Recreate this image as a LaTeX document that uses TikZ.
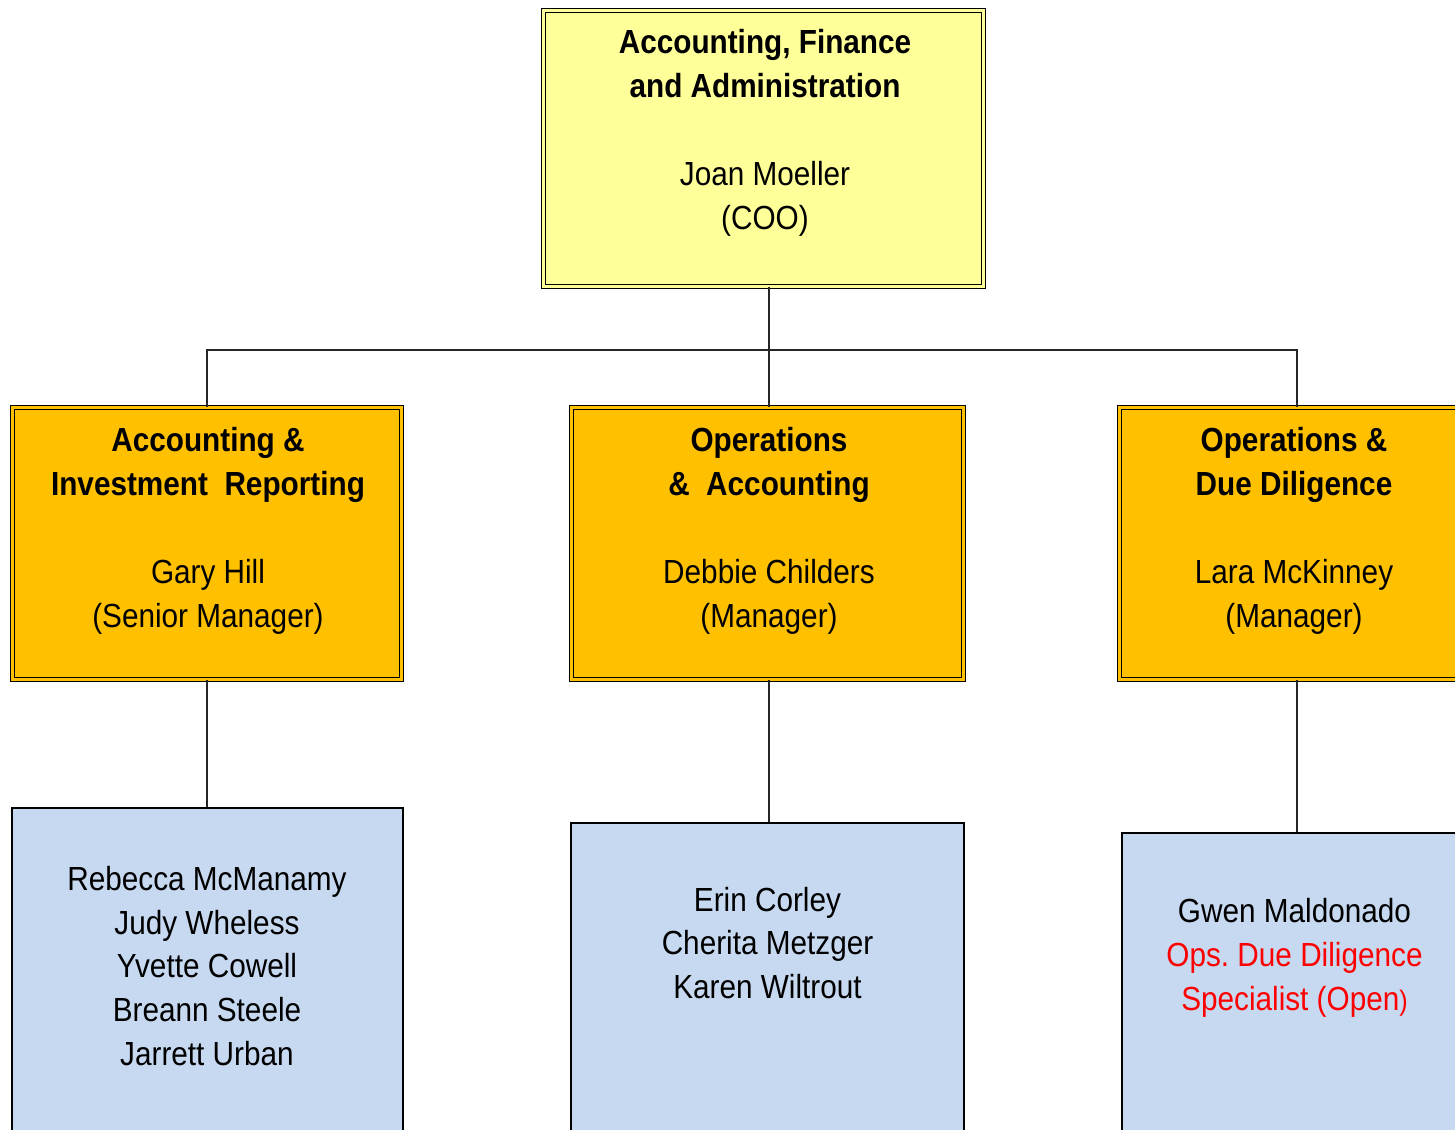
\documentclass[tikz,border=0pt]{standalone}
\usepackage{fontspec}
\setmainfont{Liberation Sans}[FakeStretch=0.89]
\usetikzlibrary{positioning}
\frenchspacing

\definecolor{cooyellow}{HTML}{FFFF99}
\definecolor{mgrorange}{HTML}{FFC000}
\definecolor{staffblue}{HTML}{C6D9F0}
\definecolor{openred}{HTML}{FF0000}

\newcommand{\orgfont}{\fontsize{9.5pt}{12.5pt}\selectfont}

\tikzset{
  unit/.style={rectangle, draw=black, line width=0.45pt, double distance=0.7pt},
  coobox/.style={unit, fill=cooyellow, double=cooyellow, minimum width=4.40cm, minimum height=2.76cm},
  mgrbox/.style={unit, fill=mgrorange, double=mgrorange, minimum height=2.72cm},
  staffbox/.style={rectangle, draw=black, line width=0.6pt, fill=staffblue, minimum height=3.6cm},
  label/.style={align=center, inner sep=0pt, font=\orgfont},
  link/.style={draw=black!85, line width=0.35pt}
}

\begin{document}
\begin{tikzpicture}[x=0.01cm, y=-0.01cm]
  \useasboundingbox (0,0) rectangle (1455,1129);
  \clip (0,0) rectangle (1455,1129);

  % top of the chart
  \node[coobox] (coo) at (763.5,148.5) {};
  \node[label] (cootext) at (765,133)
    {\textbf{Accounting, Finance}\\\textbf{and Administration}\\[12.5pt]Joan Moeller\\(COO)};

  % managers
  \node[mgrbox, minimum width=3.89cm] (air) at (207,543.5) {};
  \node[mgrbox, minimum width=3.92cm] (oa) at (767.5,543.5) {};
  \node[mgrbox, minimum width=3.55cm] (odd) at (1297,543.5) {};

  \node[label] (airtext) at (208,531)
    {\textbf{Accounting \&}\\\textbf{Investment~~Reporting}\\[12.5pt]Gary Hill\\(Senior Manager)};
  \node[label] (oatext) at (769,531)
    {\textbf{Operations}\\\textbf{\&~~Accounting}\\[12.5pt]Debbie Childers\\(Manager)};
  \node[label] (oddtext) at (1294,531)
    {\textbf{Operations \&}\\\textbf{Due Diligence}\\[12.5pt]Lara McKinney\\(Manager)};

  % staff
  \node[staffbox, minimum width=3.91cm, anchor=north] (airstaff) at (207.5,807) {};
  \node[staffbox, minimum width=3.93cm, anchor=north] (oastaff) at (767.5,822) {};
  \node[staffbox, minimum width=3.50cm, anchor=north] (oddstaff) at (1297,832) {};

  \node[label] (airnames) at (207,966)
    {Rebecca McManamy\\Judy Wheless\\Yvette Cowell\\Breann Steele\\Jarrett Urban};
  \node[label] (oanames) at (767.5,943)
    {Erin Corley\\Cherita Metzger\\Karen Wiltrout};
  \node[label] (oddnames) at (1294.5,958)
    {Gwen Maldonado\\\textcolor{openred}{Ops. Due Diligence}\\\textcolor{openred}{Specialist (Open{\fontsize{8pt}{12.5pt}\selectfont)}}};

  % reporting lines
  \coordinate (bus) at (769,350);
  \draw[link] (coo.south -| bus) -- (oa.north -| bus);
  \draw[link] (air.north) |- (bus) -| (odd.north);
  \draw[link] (air.south) -- (air.south |- airstaff.north);
  \draw[link] (oa.south -| bus) -- (oastaff.north -| bus);
  \draw[link] (odd.south) -- (oddstaff.north);
\end{tikzpicture}
\end{document}
